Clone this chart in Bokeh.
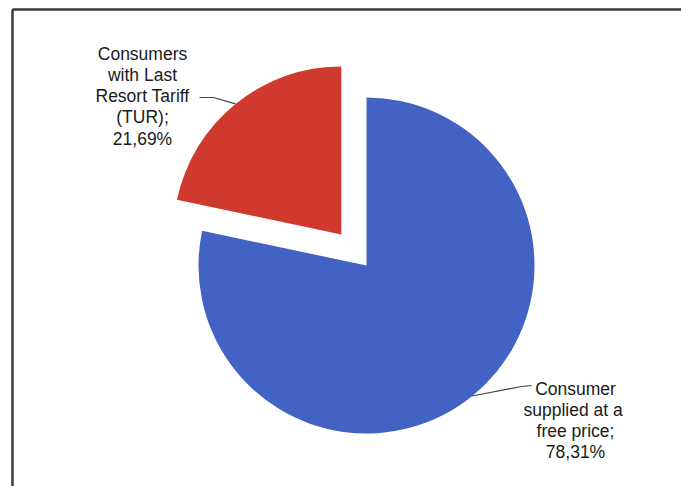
import numpy as np
from bokeh.plotting import figure
from bokeh.models import ColumnDataSource
from bokeh.embed import file_html
from bokeh.resources import INLINE
from bokeh.core.properties import value

# ---- data ----
categories = ["Consumers with Last Resort Tariff (TUR)", "Consumer supplied at a free price"]
shares = [21.69, 78.31]
label_lines = [
    ["Consumers", "with Last", "Resort Tariff", "(TUR);", "21,69%"],
    ["Consumer", "supplied  at a", "free price;", "78,31%"],
]
colors = ["#D03A2E", "#4262C4"]
explode = [40, 0]

# ---- layout ----
W, H = 681, 486
cx, cy, R = 366, H - 265, 168
label_pos = [(142, H - 53, 21.3), (575, H - 388, 21.0)]   # center x, first baseline, line step
leader_start = [[(199, H - 97), (213, H - 97)], [(531, H - 385), (521, H - 386)]]

p = figure(width=W, height=H, x_range=(0, W), y_range=(0, H),
           output_backend="svg", toolbar_location=None,
           x_axis_type=None, y_axis_type=None, min_border=0,
           outline_line_color=None, background_fill_color="white")

start = np.pi / 2
starts, ends, xs, ys, mids = [], [], [], [], []
for s, e in zip(shares, explode):
    end = start + s / 100.0 * 2 * np.pi
    mid = (start + end) / 2
    ox = cx + e * np.cos(mid)
    oy = cy + e * np.sin(mid)
    starts.append(start); ends.append(end); xs.append(ox); ys.append(oy); mids.append(mid)
    start = end

src = ColumnDataSource(dict(x=xs, y=ys, start=starts, end=ends, color=colors, cat=categories))
p.wedge(x="x", y="y", radius=R, start_angle="start", end_angle="end",
        fill_color="color", line_color=None, source=src)

# leader lines to arc midpoints
for i in range(len(shares)):
    ax = xs[i] + R * np.cos(mids[i])
    ay = ys[i] + R * np.sin(mids[i])
    pts = leader_start[i] + [(ax, ay)]
    p.line([q[0] for q in pts], [q[1] for q in pts], line_color="#444444", line_width=1.2)

# labels
for lines, (lx, ly, step) in zip(label_lines, label_pos):
    p.text(x=[lx] * len(lines), y=[ly - k * step for k in range(len(lines))], text=lines,
           text_align="center", text_baseline="alphabetic",
           text_font=value("Liberation Sans"), text_font_size="17.5px", text_color="#1a1a1a")

# frame (top and left edges)
p.line([12, W], [H - 9, H - 9], line_color="#3a3a3a", line_width=2.5)
p.line([12, 12], [H - 9, 0], line_color="#3a3a3a", line_width=2.5)

open("out.html", "w").write(file_html(p, INLINE))
